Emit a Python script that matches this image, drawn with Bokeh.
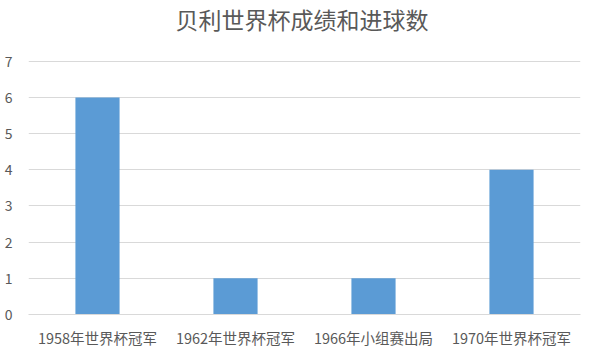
from bokeh.plotting import figure
from bokeh.models import ColumnDataSource, FactorRange, Range1d, FixedTicker
from bokeh.embed import file_html
from bokeh.resources import INLINE

categories = ["1958年世界杯冠军", "1962年世界杯冠军", "1966年小组赛出局", "1970年世界杯冠军"]
goals = [6, 1, 1, 4]
y_ticks = [0, 1, 2, 3, 4, 5, 6, 7]
title_text = "贝利世界杯成绩和进球数"

FONT = "Noto Sans CJK SC"
TEXT_COLOR = "#595959"

source = ColumnDataSource(data=dict(cat=categories, val=goals))

p = figure(
    width=596, height=352,
    x_range=FactorRange(*categories, range_padding=0),
    y_range=Range1d(0, 7.02),
    output_backend="svg", toolbar_location=None,
    title=title_text + "\n ",
    min_border_left=28, min_border_right=16, min_border_top=60, min_border_bottom=38,
)
p.vbar(x="cat", top="val", width=0.32, source=source, color="#5B9BD5", line_color=None)

p.title.align = "left"
p.title.offset = 147
p.title.text_font = FONT
p.title.text_font_size = "23px"
p.title.text_font_style = "normal"
p.title.text_color = TEXT_COLOR
p.title.text_line_height = 0.72
p.title.standoff = 0
p.title.vertical_align = "bottom"

p.outline_line_color = None
p.background_fill_color = "white"
p.border_fill_color = "white"

p.yaxis.ticker = FixedTicker(ticks=y_ticks)
p.yaxis.axis_line_color = None
p.yaxis.major_tick_line_color = None
p.yaxis.minor_tick_line_color = None
p.yaxis.major_label_text_font = FONT
p.yaxis.major_label_text_font_size = "14px"
p.yaxis.major_label_text_color = TEXT_COLOR
p.yaxis.major_label_standoff = 10

p.xaxis.axis_line_color = "#d9d9d9"
p.xaxis.major_tick_line_color = None
p.xaxis.minor_tick_line_color = None
p.xaxis.major_label_text_font = FONT
p.xaxis.major_label_text_font_size = "14.5px"
p.xaxis.major_label_text_color = TEXT_COLOR
p.xaxis.major_label_standoff = 6

p.xgrid.grid_line_color = None
p.ygrid.grid_line_color = "#d9d9d9"

open("out.html", "w").write(file_html(p, INLINE))
